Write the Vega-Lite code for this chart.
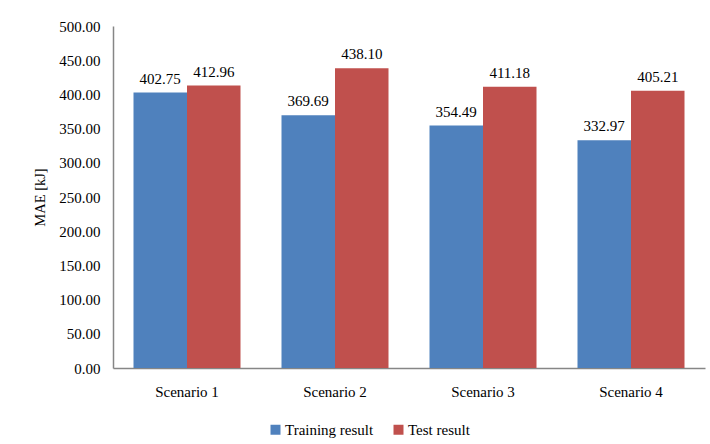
{
  "$schema": "https://vega.github.io/schema/vega-lite/v6.json",
  "width": 592,
  "height": 342,
  "autosize": "none",
  "padding": {"left": 113, "top": 26, "right": 5, "bottom": 76},
  "background": "white",
  "config": {
    "view": {"stroke": null},
    "font": "Liberation Serif, Times New Roman, serif",
    "axis": {
      "labelFont": "Liberation Serif, Times New Roman, serif",
      "titleFont": "Liberation Serif, Times New Roman, serif",
      "labelColor": "#000000",
      "titleColor": "#000000",
      "labelFontSize": 15,
      "titleFontSize": 14.5,
      "titleFontWeight": "normal",
      "domainColor": "#868686",
      "domainWidth": 1.5,
      "ticks": false,
      "grid": false,
      "labelOverlap": false
    },
    "legend": {
      "labelFont": "Liberation Serif, Times New Roman, serif",
      "labelFontSize": 15,
      "labelColor": "#000000"
    }
  },
  "data": {
    "values": [
      {"scenario": "Scenario 1", "series": "Training result", "mae": 402.75},
      {"scenario": "Scenario 1", "series": "Test result", "mae": 412.96},
      {"scenario": "Scenario 2", "series": "Training result", "mae": 369.69},
      {"scenario": "Scenario 2", "series": "Test result", "mae": 438.10},
      {"scenario": "Scenario 3", "series": "Training result", "mae": 354.49},
      {"scenario": "Scenario 3", "series": "Test result", "mae": 411.18},
      {"scenario": "Scenario 4", "series": "Training result", "mae": 332.97},
      {"scenario": "Scenario 4", "series": "Test result", "mae": 405.21}
    ]
  },
  "encoding": {
    "x": {
      "field": "scenario",
      "type": "nominal",
      "scale": {"paddingInner": 0.277, "paddingOuter": 0.1385},
      "axis": {"title": null, "labelAngle": 0, "labelPadding": 16}
    },
    "xOffset": {
      "field": "series",
      "type": "nominal",
      "sort": ["Training result", "Test result"]
    },
    "y": {
      "field": "mae",
      "type": "quantitative",
      "scale": {"domain": [0, 500], "nice": false},
      "axis": {
        "title": "MAE [kJ]",
        "format": ".2f",
        "values": [0, 50, 100, 150, 200, 250, 300, 350, 400, 450, 500],
        "labelPadding": 13,
        "titlePadding": 11
      }
    }
  },
  "layer": [
    {
      "mark": {"type": "bar"},
      "encoding": {
        "color": {
          "field": "series",
          "type": "nominal",
          "scale": {
            "domain": ["Training result", "Test result"],
            "range": ["#4F81BD", "#C0504D"]
          },
          "legend": {
            "title": null,
            "orient": "none",
            "direction": "horizontal",
            "legendX": 155,
            "legendY": 396,
            "symbolType": "square",
            "symbolSize": 100,
            "symbolStrokeWidth": 0,
            "columnPadding": 17,
            "labelOffset": 2
          }
        }
      }
    },
    {
      "mark": {"type": "text", "baseline": "bottom", "dy": -6, "fontSize": 15, "font": "Liberation Serif, Times New Roman, serif", "color": "#000000"},
      "encoding": {
        "text": {"field": "mae", "type": "quantitative", "format": ".2f"}
      }
    }
  ]
}
